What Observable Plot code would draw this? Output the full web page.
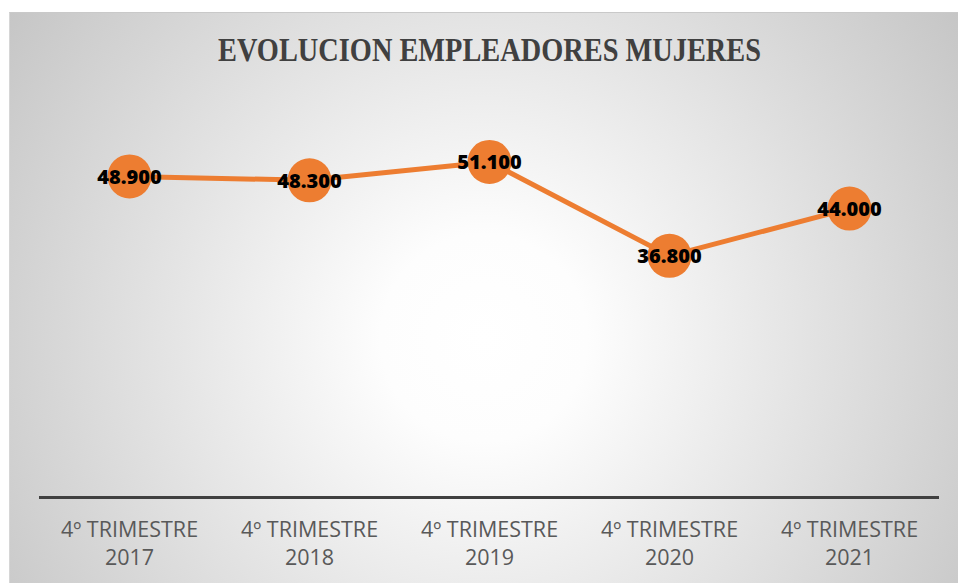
<!DOCTYPE html>
<html>
<head>
<meta charset="utf-8">
<script src="https://cdn.jsdelivr.net/npm/d3@7"></script>
<script src="https://cdn.jsdelivr.net/npm/@observablehq/plot@0.6"></script>
<style>
  html, body { margin: 0; padding: 0; background: #fff; }
  #wrap { position: relative; width: 958px; height: 583px; overflow: hidden; background: #fff; }
  #bg { position: absolute; left: 9px; top: 12px; width: 949px; height: 571px;
        background: radial-gradient(circle farthest-corner at 50% 57%, #ffffff 0%, #fdfdfd 18%, #e4e4e4 55%, #c6c6c6 100%);
        border-top: 1px solid #c9c9c9; border-left: 1px solid #d6d6d6; box-sizing: border-box; }
  #title { position: absolute; left: 0; top: 31px; width: 980px; text-align: center; }
  #title span { display: inline-block; font-family: "Liberation Serif", serif; font-weight: bold;
        font-size: 34px; color: #404040; white-space: nowrap; transform-origin: center center; }
  #chart { position: absolute; left: 0; top: 0; }
</style>
</head>
<body>
<div id="wrap">
  <div id="bg"></div>
  <div id="title"><span id="tt">EVOLUCION EMPLEADORES MUJERES</span></div>
  <div id="chart"></div>
</div>
<script>
const categories = ["4º TRIMESTRE 2017", "4º TRIMESTRE 2018", "4º TRIMESTRE 2019", "4º TRIMESTRE 2020", "4º TRIMESTRE 2021"];
const values = [48900, 48300, 51100, 36800, 44000];
const titleText = "EVOLUCION EMPLEADORES MUJERES";

const data = categories.map((c, i) => ({cat: c, value: values[i]}));
const es = d3.formatLocale({decimal: ",", thousands: ".", grouping: [3], currency: ["", " €"]});
const fmt = es.format(",d");

const plot = Plot.plot({
  width: 958,
  height: 583,
  marginLeft: 39,
  marginRight: 19,
  marginTop: 103,
  marginBottom: 86,
  style: {background: "transparent", overflow: "visible"},
  x: {type: "point", domain: categories, padding: 0.5},
  y: {domain: [0, 60000], axis: null},
  marks: [
    Plot.ruleY([0], {stroke: "#404040", strokeWidth: 3}),
    Plot.axisX({
      tickSize: 0,
      tickPadding: 20,
      fontSize: 21.5,
      lineHeight: 1.3,
      color: "#595959",
      fontFamily: "'Open Sans', sans-serif",
      tickFormat: d => d.replace(" 2", "\n2"),
      label: null
    }),
    Plot.line(data, {x: "cat", y: "value", stroke: "#ED7D31", strokeWidth: 5}),
    Plot.dot(data, {x: "cat", y: "value", r: 22, fill: "#ED7D31", stroke: "none"}),
    Plot.text(data, {x: "cat", y: "value", text: d => fmt(d.value), fontSize: 20, fontWeight: 800,
                     fontFamily: "'Open Sans', sans-serif", fill: "#000", dy: 1})
  ]
});
document.getElementById("chart").appendChild(plot);

const tt = document.getElementById("tt");
tt.textContent = titleText;
const w = tt.getBoundingClientRect().width;
tt.style.transform = `scaleX(${543 / w})`;
</script>
</body>
</html>
